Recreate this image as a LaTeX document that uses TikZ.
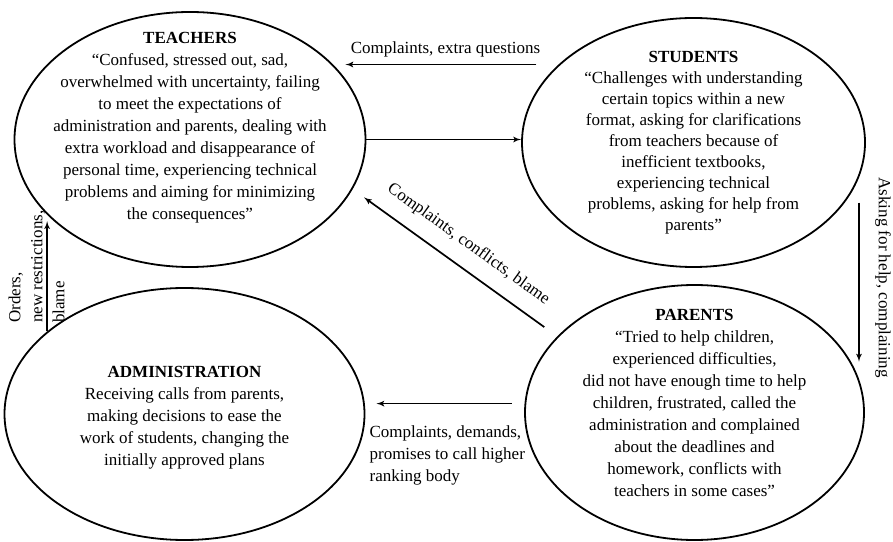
\documentclass[tikz,border=0pt]{standalone}
\usepackage{fontspec}
\setmainfont{Liberation Serif}
\usepackage{tikz}
\usetikzlibrary{arrows,shapes.geometric,positioning}
\tikzset{
	actor/.style={ellipse, draw, line width=1.8pt, inner sep=0pt},
	says/.style={align=center, font=\fontsize{17}{22}\selectfont},
	flow/.style={-latex', line width=1.7pt},
	tag/.style={font=\fontsize{17}{22}\selectfont}
}

\begin{document}
\begin{tikzpicture}[x=1pt,y=1pt]
		\useasboundingbox (0,0) rectangle (893,541);
		\node[actor, minimum width=351pt, minimum height=255pt,
			label={[says, yshift=12pt]center:{\textbf{TEACHERS}\\ “Confused, stressed out, sad,\\ overwhelmed with uncertainty, failing\\ to meet the expectations of\\ administration and parents, dealing with\\ extra workload and disappearance of\\ personal time, experiencing technical\\ problems and aiming for minimizing\\ the consequences”}}] (teach) at (190,401.5) {};
		\node[actor, minimum width=343pt, minimum height=249pt,
			label={[says, font=\fontsize{17}{21}\selectfont]center:{\textbf{STUDENTS}\\ “Challenges with understanding\\ certain topics within a new\\ format, asking for clarifications\\ from teachers because of\\ inefficient textbooks,\\ experiencing technical\\ problems, asking for help from\\ parents”}}] (stud) at (693.5,398.5) {};
		\node[actor, minimum width=360pt, minimum height=252pt,
			label={[says, yshift=-4pt]center:{\textbf{ADMINISTRATION}\\ Receiving calls from parents,\\ making decisions to ease the\\ work of students, changing the\\ initially approved plans}}] (adm) at (184.5,127) {};
		\node[actor, minimum width=339pt, minimum height=255pt,
			label={[says, yshift=9.5pt]center:{\textbf{PARENTS}\\ “Tried to help children,\\ experienced difficulties,\\ did not have enough time to help\\ children, frustrated, called the\\ administration and complained\\ about the deadlines and\\ homework, conflicts with\\ teachers in some cases”}}] (par) at (694.5,128.5) {};
		\draw[flow, shorten <=22pt, shorten >=13pt] (stud.150) -- node[tag, above=3pt] (q1) {Complaints, extra questions} (stud.150 -| teach.28);
		\draw[flow] (teach.east) -- (teach.east -| stud.west);
		\draw[flow, shorten <=16pt, shorten >=14pt] (par.151.6) -- node[tag, sloped, above=11pt] (q2) {Complaints, conflicts, blame} (teach.-17.9);
		\draw[flow, shorten <=25pt, shorten >=16pt] (stud.-12.7) -- node[tag, sloped, above=12pt] (q3) {Asking for help, complaining} (stud.-12.7 |- par.12.5);
		\draw[flow, shorten <=13pt, shorten >=11pt] (par.177.5) -- (par.177.5 -| adm.east) node[tag, pos=1, anchor=north west, align=left, yshift=-18pt] (q4) {Complaints, demands,\\ promises to call higher\\ ranking body};
		\draw[flow, shorten >=8pt] (adm.149) -- (adm.149 |- teach.207.5);
		\node[tag, rotate=90, anchor=north west, align=left, inner sep=0pt] (q5) at (8.5,218) {Orders,\\ new restrictions,\\ blame};
\end{tikzpicture}
\end{document}
